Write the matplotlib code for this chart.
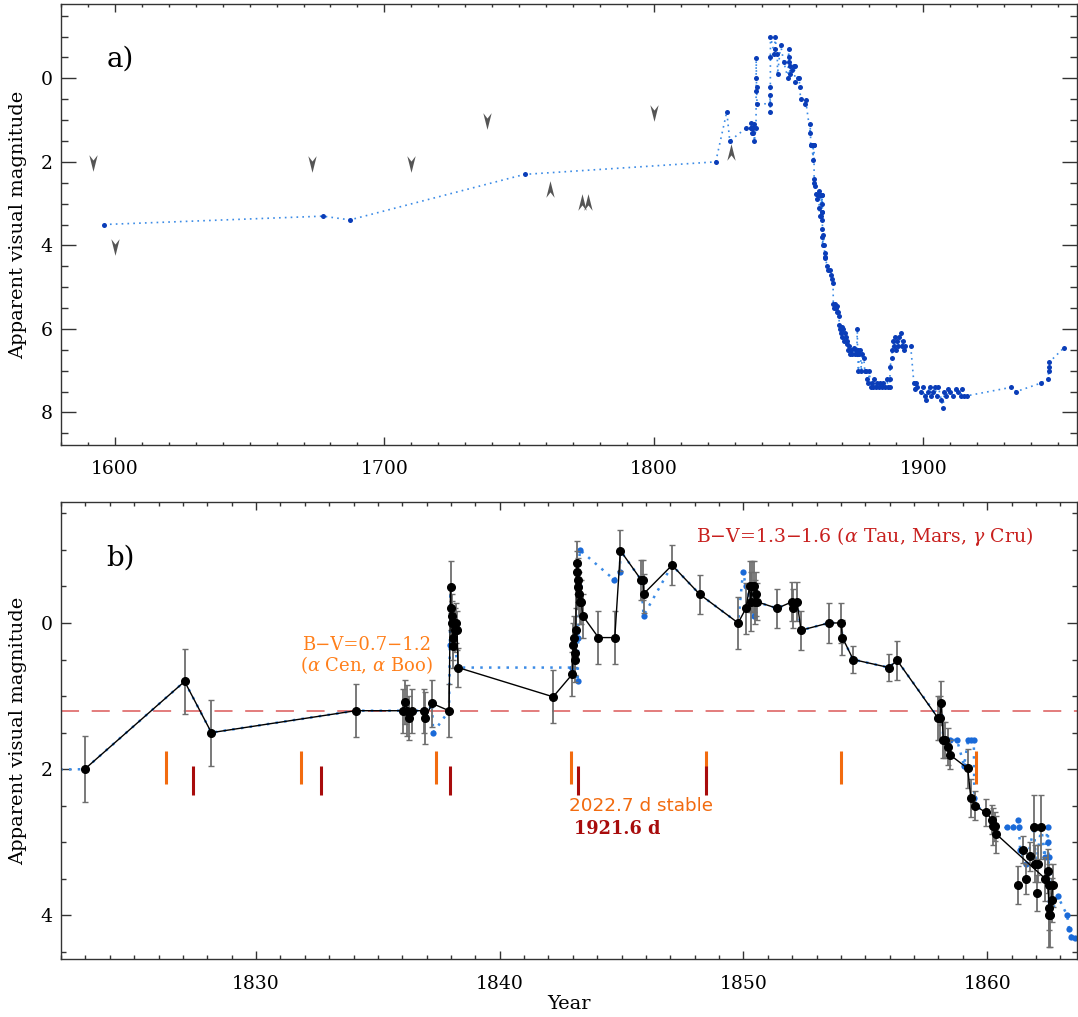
import matplotlib
matplotlib.use('Agg')
import matplotlib.pyplot as plt
from matplotlib.ticker import MultipleLocator

plt.rcParams['font.family'] = ['DejaVu Serif']
plt.rcParams['mathtext.fontset'] = 'dejavuserif'

# historical light curve (blue) - year, apparent visual magnitude
blue_yr = [1596.0, 1677.2, 1687.2, 1752.0, 1822.97, 1827.07, 1828.17, 1834.09,
           1836.05, 1836.12, 1836.20, 1836.28, 1836.38, 1836.90, 1836.95, 1837.22,
           1837.27, 1837.92, 1837.95, 1837.98, 1838.05, 1838.10, 1838.29, 1842.98,
           1843.10, 1843.20, 1843.22, 1843.25, 1843.28, 1844.70, 1844.93, 1844.95,
           1845.80, 1845.90, 1847.07, 1848.21, 1849.78, 1849.98, 1850.10, 1850.25,
           1850.43, 1850.50, 1851.38, 1852.00, 1852.20, 1852.36, 1853.50, 1854.00,
           1854.06, 1854.50, 1855.97, 1856.30, 1858.00, 1858.12, 1858.20, 1858.46,
           1858.76, 1859.05, 1859.22, 1859.35, 1859.45, 1859.47, 1859.55, 1859.94,
           1860.30, 1860.38, 1860.80, 1861.05, 1861.27, 1861.30, 1861.35, 1861.60,
           1861.92, 1862.00, 1862.22, 1862.35, 1862.48, 1862.50, 1862.52, 1862.53,
           1862.55, 1862.57, 1862.60, 1862.90, 1863.28, 1863.36, 1863.45, 1863.60,
           1864.4, 1864.8, 1865.3, 1865.8, 1866.2, 1866.5, 1866.6, 1866.9, 1867.2,
           1867.5, 1867.8, 1868.1, 1868.4, 1868.7, 1868.8, 1869.1, 1869.4, 1869.7,
           1870.0, 1870.3, 1870.6, 1870.9, 1871.2, 1871.5, 1871.8, 1872.1, 1872.5,
           1872.9, 1873.3, 1873.7, 1874.1, 1874.5, 1874.9, 1875.3, 1875.5, 1875.6,
           1875.9, 1876.3, 1876.6, 1877.0, 1877.4, 1877.9, 1878.3, 1878.8, 1879.2,
           1879.6, 1880.0, 1880.4, 1880.9, 1881.3, 1881.8, 1882.3, 1882.8, 1883.4,
           1884.0, 1884.6, 1885.2, 1885.8, 1886.4, 1887.0, 1887.5, 1887.6, 1887.7,
           1888.2, 1888.5, 1888.8, 1889.2, 1889.5, 1889.9, 1890.3, 1890.7, 1891.1,
           1891.6, 1892.0, 1892.4, 1892.8, 1893.1, 1895.3, 1896.5, 1896.9, 1897.4,
           1897.8, 1899.0, 1900.0, 1900.5, 1901.0, 1901.6, 1902.3, 1903.0, 1903.6,
           1904.3, 1905.0, 1905.6, 1906.7, 1907.3, 1907.8, 1908.5, 1909.2, 1910.0,
           1911.0, 1912.0, 1913.0, 1913.8, 1914.5, 1915.2, 1916.3, 1932.4, 1934.5,
           1943.5, 1946.4, 1946.5, 1946.6, 1946.7, 1952.2]
blue_mag = [3.50, 3.30, 3.39, 2.30, 2.00, 0.80, 1.50, 1.20,
            1.20, 1.08, 1.20, 1.30, 1.20, 1.20, 1.30, 1.10,
            1.50, 1.20, 0.30, -0.49, 0.00, 0.20, 0.61, 0.61,
            0.40, 0.80, 0.20, -0.50, -1.00, -0.59, -0.70, -0.99,
            -0.59, -0.10, -0.79, -0.39, 0.00, -0.70, -0.50, -0.40,
            -0.10, -0.29, -0.20, -0.29, -0.29, 0.10, 0.00, 0.00,
            0.20, 0.50, 0.61, 0.51, 1.30, 1.10, 1.60, 1.60,
            1.60, 1.95, 1.60, 1.60, 1.60, 2.40, 2.50, 2.59,
            2.78, 2.89, 2.79, 2.79, 2.69, 2.79, 3.10, 3.30,
            2.79, 3.30, 2.79, 3.20, 2.79, 3.00, 3.20, 3.40,
            3.60, 3.80, 3.99, 3.74, 4.00, 4.18, 4.29, 4.31,
            4.5, 4.6, 4.6, 4.7, 4.8, 4.9, 5.4, 5.5, 5.4,
            5.5, 5.6, 5.45, 5.6, 5.7, 5.9, 6.0, 6.1, 5.95,
            6.2, 6.0, 6.3, 6.1, 6.2, 6.35, 6.3, 6.5, 6.4,
            6.6, 6.5, 6.6, 6.45, 6.6, 6.5, 6.6, 6.0, 6.5,
            7.0, 6.6, 6.5, 7.0, 6.6, 6.7, 7.0, 7.0, 7.2,
            7.3, 7.0, 7.4, 7.3, 7.4, 7.2, 7.4, 7.3, 7.4,
            7.3, 7.4, 7.3, 7.4, 7.2, 7.4, 7.4, 7.2, 6.9,
            6.7, 6.5, 6.3, 6.4, 6.2, 6.5, 6.3, 6.4, 6.2,
            6.1, 6.4, 6.3, 6.5, 6.4, 6.4, 7.3, 7.45, 7.3,
            7.4, 7.5, 7.4, 7.6, 7.7, 7.5, 7.4, 7.6, 7.5,
            7.4, 7.6, 7.4, 7.7, 7.9, 7.5, 7.6, 7.45, 7.5,
            7.6, 7.45, 7.5, 7.6, 7.45, 7.6, 7.6, 7.4, 7.5,
            7.3, 7.2, 7.0, 6.9, 6.8, 6.45]

# limits (arrowheads)
down_yr = [1592.0, 1600.0, 1673.0, 1710.0, 1738.2, 1799.9]
down_mag = [2.03, 4.03, 2.04, 2.04, 1.02, 0.83]
up_yr = [1761.6, 1773.4, 1775.6, 1828.7]
up_mag = [2.66, 2.96, 2.96, 1.76]

# panel b: black points joined by the line
b_yr = [1822.97, 1827.07, 1828.17, 1834.09, 1836.05, 1836.12, 1836.20, 1836.28,
        1836.38, 1836.90, 1836.95, 1837.22, 1837.92, 1837.98, 1838.00, 1838.03,
        1838.05, 1838.08, 1838.10, 1838.15, 1838.20, 1838.25, 1838.29, 1842.19,
        1842.98, 1843.02, 1843.05, 1843.07, 1843.10, 1843.12, 1843.15, 1843.18,
        1843.20, 1843.22, 1843.25, 1843.28, 1843.35, 1843.40, 1844.05, 1844.72,
        1844.95, 1845.80, 1845.88, 1845.91, 1847.07, 1848.21, 1849.78, 1850.10,
        1850.25, 1850.30, 1850.35, 1850.45, 1850.48, 1850.52, 1850.55, 1851.38,
        1852.00, 1852.03, 1852.20, 1852.36, 1853.50, 1854.00, 1854.06, 1854.50,
        1855.97, 1856.30, 1857.98, 1858.05, 1858.12, 1858.20, 1858.28, 1858.40,
        1858.46, 1859.20, 1859.33, 1859.50, 1859.94, 1860.20, 1860.25, 1860.30,
        1860.38, 1862.39, 1862.48, 1862.53, 1862.57, 1862.64, 1862.68]
b_mag = [2.00, 0.80, 1.50, 1.20, 1.20, 1.08, 1.20, 1.30,
         1.20, 1.20, 1.30, 1.10, 1.20, -0.49, -0.20, -0.10,
         0.00, 0.31, 0.20, 0.10, 0.00, 0.10, 0.61, 1.01,
         0.70, 0.30, 0.20, 0.41, 0.51, 0.10, -0.82, -0.69,
         -0.59, -0.49, -0.40, -0.29, -0.29, -0.10, 0.20, 0.20,
         -0.99, -0.59, -0.59, -0.40, -0.79, -0.39, 0.00, -0.20,
         -0.50, -0.29, -0.50, -0.50, -0.29, -0.40, -0.29, -0.20,
         -0.29, -0.20, -0.29, 0.10, 0.00, 0.00, 0.20, 0.50,
         0.61, 0.51, 1.30, 1.30, 1.10, 1.60, 1.60, 1.69,
         1.80, 1.99, 2.40, 2.50, 2.59, 2.69, 2.78, 2.78,
         2.89, 3.50, 3.39, 3.90, 3.99, 3.79, 3.59]
b_err = [0.45, 0.44, 0.45, 0.36, 0.30, 0.30, 0.35, 0.30,
         0.30, 0.30, 0.35, 0.32, 0.36, 0.36, 0.30, 0.30,
         0.30, 0.30, 0.30, 0.30, 0.27, 0.27, 0.27, 0.36,
         0.30, 0.30, 0.30, 0.30, 0.30, 0.30, 0.30, 0.30,
         0.30, 0.30, 0.30, 0.30, 0.30, 0.30, 0.36, 0.36,
         0.28, 0.27, 0.27, 0.27, 0.27, 0.27, 0.36, 0.35,
         0.35, 0.40, 0.35, 0.35, 0.30, 0.30, 0.25, 0.27,
         0.27, 0.27, 0.27, 0.27, 0.27, 0.27, 0.24, 0.19,
         0.18, 0.27, 0.30, 0.30, 0.30, 0.25, 0.25, 0.25,
         0.20, 0.27, 0.26, 0.20, 0.18, 0.20, 0.25, 0.20,
         0.25, 0.30, 0.30, 0.30, 0.44, 0.30, 0.30]

# panel b: black points off the line
s_yr = [1861.28, 1861.47, 1861.58, 1861.75, 1861.92, 1861.98, 1862.06, 1862.10,
        1862.22, 1862.54, 1862.53]
s_mag = [3.59, 3.10, 3.50, 3.19, 2.79, 3.29, 3.69, 3.29, 2.79, 3.59, 3.99]
s_err = [0.26, 0.18, 0.20, 0.20, 0.44, 0.25, 0.25, 0.25, 0.44, 0.30, 0.44]

# periastron markers
orange_yr = [1826.32, 1831.86, 1837.40, 1842.94, 1848.47, 1854.01, 1859.55]
red_yr = [1827.42, 1832.68, 1837.94, 1843.20, 1848.46]

BLUE_PT = '#0a3db8'
BLUE_LN = '#3b8be6'
ORANGE = '#f26b0f'
DKRED = '#a80c0c'

fig = plt.figure(figsize=(10.78, 10.17), dpi=100)
ax1 = fig.add_axes([0.0566, 0.5624, 0.9424, 0.4337])
ax2 = fig.add_axes([0.0566, 0.0567, 0.9424, 0.4494])

down_m = [(0, -1), (-0.5, 1), (0, 0.35), (0.5, 1), (0, -1)]
up_m = [(0, 1), (-0.5, -1), (0, -0.35), (0.5, -1), (0, 1)]

# ---- panel a
ax1.plot(blue_yr, blue_mag, ls=(0, (1, 2.5)), color=BLUE_LN, lw=1.2, zorder=2)
ax1.plot(blue_yr, blue_mag, 'o', ms=3.6, color=BLUE_PT, mec='none', zorder=3)
ax1.plot(down_yr, down_mag, ls='none', marker=down_m, ms=12, color='#555555', mec='none')
ax1.plot(up_yr, up_mag, ls='none', marker=up_m, ms=12, color='#555555', mec='none')
ax1.set_xlim(1580, 1957)
ax1.set_ylim(8.78, -1.78)
ax1.text(0.045, 0.875, 'a)', transform=ax1.transAxes, fontsize=20, va='center')

# ---- panel b
ax2.axhline(1.2, color='#e07272', lw=1.3, dashes=(10, 7), zorder=1)
ax2.plot(blue_yr, blue_mag, ls=(0, (1, 2.5)), color=BLUE_LN, lw=1.8, zorder=2)
ax2.plot(blue_yr, blue_mag, 'o', ms=4.5, color='#1a6ad8', mec='none', zorder=2)
ax2.errorbar(b_yr, b_mag, yerr=b_err, fmt='none', ecolor='#6e6e6e', elinewidth=1.3,
             capsize=2.5, capthick=1.0, zorder=3)
ax2.errorbar(s_yr, s_mag, yerr=s_err, fmt='none', ecolor='#6e6e6e', elinewidth=1.3,
             capsize=2.5, capthick=1.0, zorder=3)
ax2.plot(b_yr, b_mag, '-', color='black', lw=1.0, zorder=4)
ax2.plot(b_yr, b_mag, 'o', ms=5.5, color='black', zorder=5)
ax2.plot(s_yr, s_mag, 'o', ms=5.5, color='black', zorder=5, ls='none')

ax2.vlines(orange_yr, 1.75, 2.2, color=ORANGE, lw=2.2, zorder=3)
ax2.vlines(red_yr, 1.95, 2.35, color=DKRED, lw=2.2, zorder=3)

ax2.text(1837.25, 0.45, 'B\u2212V=0.7\u22121.2\n($\\alpha$ Cen, $\\alpha$ Boo)', color='#ff7f1a',
         fontsize=13, ha='right', va='center', multialignment='center', linespacing=1.0)
ax2.text(1848.04, -1.18, 'B\u2212V=1.3\u22121.6 ($\\alpha$ Tau, Mars, $\\gamma$ Cru)',
         color='#c8201e', fontsize=13.6, ha='left', va='center')
ax2.text(1845.8, 2.50, '2022.7 d stable', color=ORANGE, fontsize=13.2, ha='center',
         va='center', family='DejaVu Sans')
ax2.text(1844.8, 2.82, '1921.6 d', color=DKRED, fontsize=12.8, ha='center', va='center',
         fontweight='bold')
ax2.text(0.045, 0.878, 'b)', transform=ax2.transAxes, fontsize=20, va='center')
ax2.set_xlim(1822.0, 1863.68)
ax2.set_ylim(4.6, -1.65)
ax2.set_xlabel('Year', fontsize=14, labelpad=2)

for ax in (ax1, ax2):
    ax.set_ylabel('Apparent visual magnitude', fontsize=14, labelpad=10)
    ax.yaxis.set_major_locator(MultipleLocator(2))
    ax.yaxis.set_minor_locator(MultipleLocator(0.5))
    ax.tick_params(which='both', direction='in', top=True, right=True,
                   labelsize=13.5, width=1.0, color='#333333')
    ax.tick_params(axis='x', pad=11)
    ax.tick_params(axis='y', pad=6)
    for sp in ax.spines.values():
        sp.set_linewidth(1.0)
        sp.set_color('#333333')

ax1.xaxis.set_major_locator(MultipleLocator(100))
ax1.xaxis.set_minor_locator(MultipleLocator(10))
ax1.tick_params(axis='x', which='major', length=5.5)
ax1.tick_params(axis='x', which='minor', length=2.5)
ax1.tick_params(axis='y', which='major', length=11)
ax1.tick_params(axis='y', which='minor', length=5)

ax2.xaxis.set_major_locator(MultipleLocator(10))
ax2.xaxis.set_minor_locator(MultipleLocator(1))
ax2.tick_params(axis='x', which='major', length=6)
ax2.tick_params(axis='x', which='minor', length=3)
ax2.tick_params(axis='y', which='major', length=7)
ax2.tick_params(axis='y', which='minor', length=3.5)

fig.savefig('out.png', dpi=100)
